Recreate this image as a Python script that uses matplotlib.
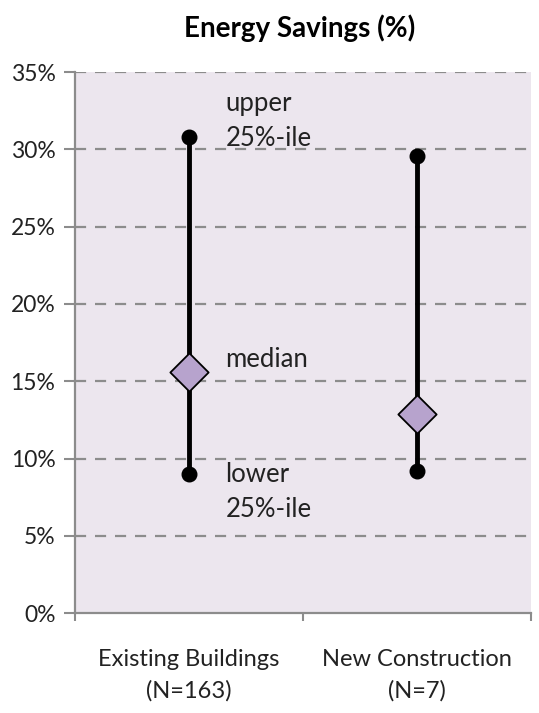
import numpy as np
import matplotlib
matplotlib.use("Agg")
from matplotlib import pyplot as plt

plt.rcParams["font.family"] = ["Lato", "DejaVu Sans"]

categories = ["Existing Buildings\n(N=163)", "New Construction\n(N=7)"]
upper = [30.8, 29.6]
median = [15.6, 12.9]
lower = [9.0, 9.2]
y_ticks = [0, 5, 10, 15, 20, 25, 30, 35]

fig = plt.figure(figsize=(5.39, 7.13), dpi=100)
ax = fig.add_axes([0.139, 0.140, 0.846, 0.759])
ax.set_facecolor("#ECE6EE")

x = np.arange(len(categories)) + 0.5

# whiskers from lower to upper quartile
for xi, lo, hi in zip(x, lower, upper):
    ax.plot([xi, xi], [lo, hi], color="black", lw=3.5, zorder=3, solid_capstyle="butt")
ax.scatter(x, upper, s=110, color="black", zorder=4)
ax.scatter(x, lower, s=110, color="black", zorder=4)
ax.scatter(x, median, s=380, marker="D", color="#B7A3CD", edgecolor="black", linewidth=1.3, zorder=5)

# labels next to the first series
lab_kw = dict(fontsize=18.5, color="#222222", ha="left", linespacing=1.5)
ax.text(x[0] + 0.16, upper[0] - 0.9, "upper\n25%-ile", va="bottom", **lab_kw)
ax.text(x[0] + 0.16, median[0] + 0.8, "median", va="center", **lab_kw)
ax.text(x[0] + 0.16, lower[0] + 0.8, "lower\n25%-ile", va="top", **lab_kw)

ax.set_xlim(0, 2)
ax.set_ylim(0, 35)
ax.set_yticks(y_ticks)
ax.set_yticklabels([f"{v}%" for v in y_ticks], fontsize=16.5, color="#222222")
for v in y_ticks[1:]:
    ax.axhline(v, color="#8C8C8C", lw=1.6, ls=(0, (5, 4)), zorder=1)

ax.set_xticks([0, 1, 2])
ax.set_xticklabels([])
ax.set_xticks(x, minor=True)
ax.set_xticklabels(categories, minor=True, fontsize=17, color="#222222", linespacing=1.55)
ax.tick_params(axis="x", which="minor", length=0, pad=26)
ax.tick_params(axis="x", which="major", length=6, color="#8C8C8C", width=1.5, direction="out")
ax.tick_params(axis="y", length=8, color="#8C8C8C", width=1.5, pad=6)

for s in ["top", "right"]:
    ax.spines[s].set_visible(False)
for s in ["left", "bottom"]:
    ax.spines[s].set_color("#8C8C8C")
    ax.spines[s].set_linewidth(1.6)

fig.text(0.556, 0.961, "Energy Savings (%)", fontsize=20, fontweight="bold", ha="center", va="center")

fig.savefig("out.png", dpi=100, facecolor="white")
